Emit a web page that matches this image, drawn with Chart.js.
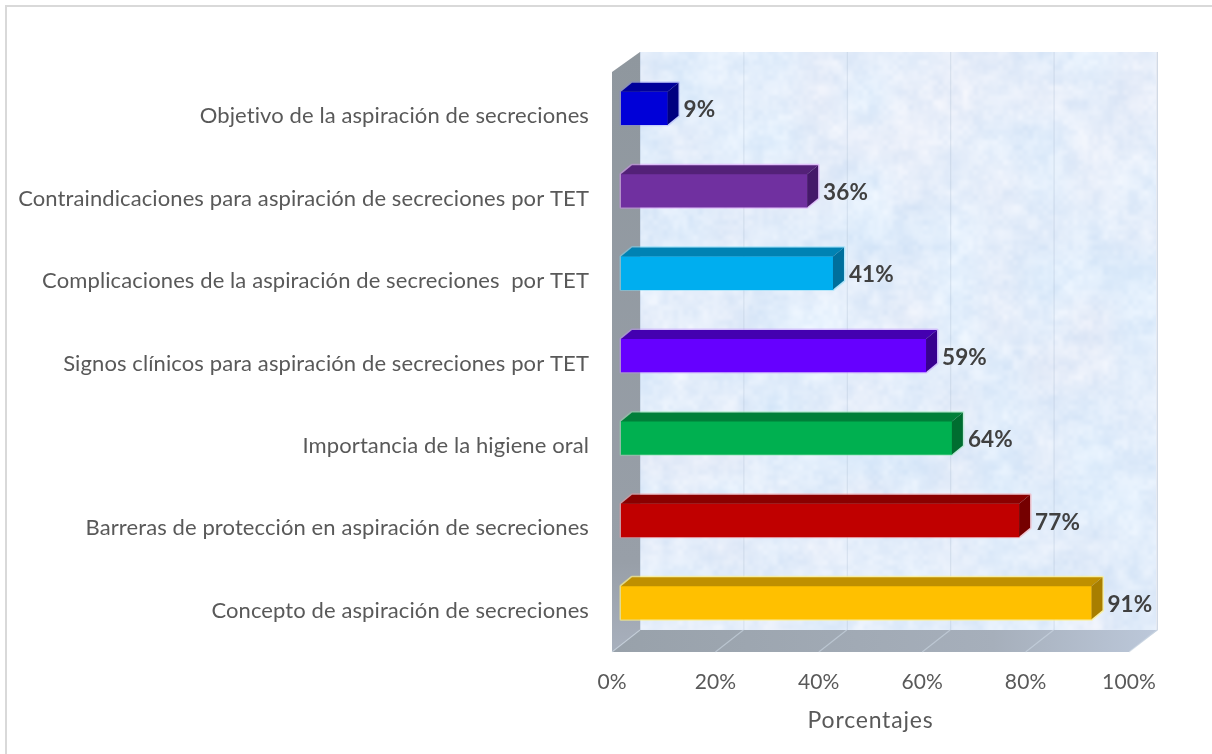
<!DOCTYPE html>
<html>
<head>
<meta charset="utf-8">
<style>html,body{margin:0;padding:0;background:#fff}canvas{display:block}</style>
<script src="https://cdn.jsdelivr.net/npm/chart.js@4"></script>
</head>
<body>
<canvas id="c" width="1212" height="754"></canvas>
<script>
const categories = [
  "Objetivo de la aspiración de secreciones",
  "Contraindicaciones para aspiración de secreciones por TET",
  "Complicaciones de la aspiración de secreciones  por TET",
  "Signos clínicos para aspiración de secreciones por TET",
  "Importancia de la higiene oral",
  "Barreras de protección en aspiración de secreciones",
  "Concepto de aspiración de secreciones"
];
const values = [9, 36, 41, 59, 64, 77, 91];
const frontColors = ["#0000d8", "#7030a0", "#00aeef", "#6600ff", "#00b050", "#c00000", "#ffc000"];
const topColors = ["#00009a", "#532178", "#0082b3", "#4400b0", "#007f39", "#8a0000", "#bf8f00"];
const sideColors = ["#000080", "#45186a", "#006f9c", "#38008f", "#006d30", "#750000", "#a87e00"];
const haloColors = ["rgba(120,120,255,.25)", "rgba(220,140,250,.45)", "rgba(120,220,250,.45)", "rgba(190,140,255,.45)", "rgba(140,230,170,.4)", "rgba(250,150,160,.45)", "rgba(255,240,130,.7)"];
const axisTitle = "Porcentajes";

const DEPTH_X = 11, DEPTH_Y = 9;
const WALL_LEFT = 9;

function hash(ix, iy) {
  const s = Math.sin(ix * 127.1 + iy * 311.7) * 43758.5453;
  return s - Math.floor(s);
}
function vnoise(x, y) {
  const ix = Math.floor(x), iy = Math.floor(y);
  let fx = x - ix, fy = y - iy;
  fx = fx * fx * (3 - 2 * fx); fy = fy * fy * (3 - 2 * fy);
  const a = hash(ix, iy), b = hash(ix + 1, iy), c = hash(ix, iy + 1), d = hash(ix + 1, iy + 1);
  return (a + (b - a) * fx) * (1 - fy) + (c + (d - c) * fx) * fy;
}
function makeTexture(w, h) {
  const off = document.createElement('canvas');
  off.width = w; off.height = h;
  const g = off.getContext('2d');
  const img = g.createImageData(w, h);
  for (let y = 0; y < h; y++) for (let x = 0; x < w; x++) {
    const n = (vnoise(x / 40, y / 40) - .5) * 0.45 + (vnoise(x / 13 + 9, y / 13 + 4) - .5) * 0.8 + (vnoise(x / 5 + 3, y / 5 + 7) - .5) * 0.5;
    const tint = vnoise(x / 45 + 20, y / 45 + 31) - .5;
    const i = (y * w + x) * 4;
    img.data[i] = 227 + n * 18 + tint * 8;
    img.data[i + 1] = 237 + n * 12;
    img.data[i + 2] = 250 + n * 5 - tint * 3;
    img.data[i + 3] = 255;
  }
  g.putImageData(img, 0, 0);
  return off;
}

const scene = {
  id: 'scene',
  beforeDraw(chart) {
    const ctx = chart.ctx;
    ctx.save();
    ctx.fillStyle = '#fff';
    ctx.fillRect(0, 0, chart.width, chart.height);
    ctx.strokeStyle = '#d9d9d9';
    ctx.lineWidth = 2;
    ctx.beginPath();
    ctx.moveTo(6, chart.height + 2); ctx.lineTo(6, 6); ctx.lineTo(chart.width + 2, 6);
    ctx.stroke();
    ctx.restore();
    ctx.letterSpacing = '0.1px';
  },
  beforeDatasetsDraw(chart) {
    const ctx = chart.ctx, a = chart.chartArea, sx = chart.scales.x;
    const fl = a.left - WALL_LEFT, fr = a.right - WALL_LEFT;
    const bl = fl + 28, br = fr + 28;
    const ft = a.top + 5, fb = a.bottom + 8;
    const bt = ft - 20, bb = fb - 22;
    ctx.save();
    // back wall
    ctx.drawImage(makeTexture(Math.round(br - bl), Math.round(bb - bt)), bl, bt);
    ctx.fillStyle = '#e6eaf2';
    ctx.fillRect(br - 1, bt, 2, bb - bt);
    // left wall
    const lg = ctx.createLinearGradient(0, bt, 0, fb);
    lg.addColorStop(0, '#8f979e'); lg.addColorStop(0.85, '#989fa8'); lg.addColorStop(1, '#a8b0bd');
    ctx.fillStyle = lg;
    ctx.beginPath();
    ctx.moveTo(fl, ft); ctx.lineTo(bl, bt); ctx.lineTo(bl, bb); ctx.lineTo(fl, fb);
    ctx.closePath(); ctx.fill();
    // floor
    const fg = ctx.createLinearGradient(fl, 0, br, 0);
    fg.addColorStop(0, '#98a1aa'); fg.addColorStop(0.7, '#a6afbb'); fg.addColorStop(1, '#bcc8da');
    ctx.fillStyle = fg;
    ctx.beginPath();
    ctx.moveTo(fl, fb); ctx.lineTo(bl, bb); ctx.lineTo(br + 1, bb); ctx.lineTo(fr, fb);
    ctx.closePath(); ctx.fill();
    // grid lines through the library's scale
    sx.ticks.forEach(t => {
      const x = sx.getPixelForValue(t.value);
      ctx.beginPath();
      ctx.strokeStyle = 'rgba(170,185,205,0.35)'; ctx.lineWidth = 1;
      ctx.moveTo(x - WALL_LEFT + 28 + .5, bt); ctx.lineTo(x - WALL_LEFT + 28 + .5, bb);
      ctx.stroke();
      ctx.beginPath();
      ctx.strokeStyle = 'rgba(205,217,228,0.6)'; ctx.lineWidth = 1.2;
      ctx.moveTo(x - WALL_LEFT, fb); ctx.lineTo(x - WALL_LEFT + 28, bb);
      ctx.stroke();
    });
    // soft edge glow following each bar's outline
    chart.getDatasetMeta(0).data.forEach((el, i) => {
      const r = el.getProps(['x', 'y', 'base', 'height'], true);
      const t = r.y - r.height / 2, b = r.y + r.height / 2;
      ctx.strokeStyle = haloColors[i];
      ctx.lineWidth = 3;
      ctx.lineJoin = 'round';
      ctx.beginPath();
      ctx.moveTo(r.base, b); ctx.lineTo(r.base, t);
      ctx.lineTo(r.base + DEPTH_X, t - DEPTH_Y);
      ctx.lineTo(r.x + DEPTH_X, t - DEPTH_Y);
      ctx.lineTo(r.x + DEPTH_X, b - DEPTH_Y);
      ctx.lineTo(r.x, b);
      ctx.closePath(); ctx.stroke();
    });
    ctx.restore();
  },
  afterDatasetsDraw(chart) {
    const ctx = chart.ctx;
    const meta = chart.getDatasetMeta(0);
    ctx.save();
    meta.data.forEach((el, i) => {
      const r = el.getProps(['x', 'y', 'base', 'height'], true);
      const t = r.y - r.height / 2, b = r.y + r.height / 2;
      ctx.fillStyle = topColors[i];
      ctx.beginPath();
      ctx.moveTo(r.base, t); ctx.lineTo(r.base + DEPTH_X, t - DEPTH_Y);
      ctx.lineTo(r.x + DEPTH_X, t - DEPTH_Y); ctx.lineTo(r.x, t);
      ctx.closePath(); ctx.fill();
      ctx.fillStyle = sideColors[i];
      ctx.beginPath();
      ctx.moveTo(r.x, t); ctx.lineTo(r.x + DEPTH_X, t - DEPTH_Y);
      ctx.lineTo(r.x + DEPTH_X, b - DEPTH_Y); ctx.lineTo(r.x, b);
      ctx.closePath(); ctx.fill();
      ctx.fillStyle = '#404040';
      ctx.font = 'bold 22.5px Lato';
      ctx.textAlign = 'left';
      ctx.textBaseline = 'middle';
      ctx.fillText(values[i] + '%', r.x + 16, r.y + 2);
    });
    ctx.restore();
  },
  afterDraw(chart) {
    const ctx = chart.ctx, sx = chart.scales.x;
    ctx.save();
    ctx.fillStyle = '#595959';
    ctx.font = '23px Lato';
    ctx.letterSpacing = '0.8px';
    ctx.textAlign = 'center';
    ctx.textBaseline = 'middle';
    ctx.fillText(axisTitle, (sx.left + sx.right) / 2 - WALL_LEFT, 721);
    ctx.restore();
  }
};

new Chart(document.getElementById('c'), {
  type: 'bar',
  data: {
    labels: categories,
    datasets: [{ data: values, backgroundColor: frontColors, barThickness: 33, borderWidth: 0 }]
  },
  options: {
    indexAxis: 'y',
    responsive: false,
    animation: false,
    layout: { padding: { left: 0, top: 67, right: 74, bottom: 0 } },
    plugins: { legend: { display: false }, tooltip: { enabled: false }, title: { display: false } },
    scales: {
      x: {
        min: 0, max: 100,
        border: { display: false },
        grid: { display: false, drawTicks: false },
        afterFit(s) { s.height = 110; },
        ticks: {
          stepSize: 20, padding: 26, labelOffset: -9, maxRotation: 0,
          color: '#595959', font: { family: 'Lato', size: 21 },
          callback: v => v + '%'
        }
      },
      y: {
        border: { display: false },
        grid: { display: false, drawTicks: false },
        afterFit(s) { s.width = 621; },
        ticks: {
          padding: 32, labelOffset: 8, color: '#595959', font: { family: 'Lato', size: 22 }, autoSkip: false
        }
      }
    }
  },
  plugins: [scene]
});
</script>
</body>
</html>
